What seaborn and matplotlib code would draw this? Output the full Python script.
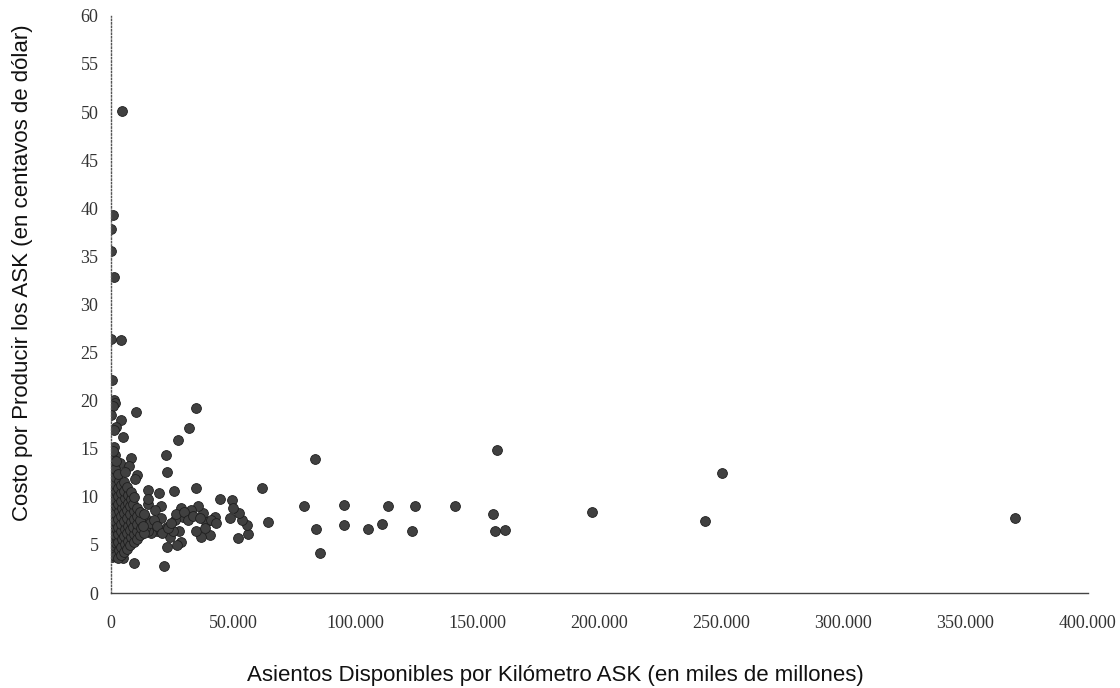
import pandas as pd
import matplotlib
matplotlib.use("Agg")
import matplotlib.pyplot as plt
import matplotlib.ticker as mticker
import seaborn as sns

# ASK (miles de millones) y costo (centavos de dolar)
ask = [
    # puntos aislados / altos
    4500, 900, 0, 0, 1350, 0, 4000, 400, 1200, 1500, 700, 0, 10100, 35000,
    4000, 2300, 1200, 31900, 5000, 27400, 1200, 22400, 1600, 8300, 3700,
    7500, 600, 23000, 10500, 9800, 1600, 5000,
    # zona media
    15400, 19800, 25900, 34800, 61700, 44600, 49600, 64300, 52100, 56000,
    55800, 53900, 52500, 50000, 48700, 42500, 40800, 37100, 35000, 39100,
    37700, 35700, 33000, 28900, 29500, 27900, 28900, 26900, 24100, 22800,
    21700, 9500, 4800, 400, 20700, 20700, 18700, 16600, 15300, 13900,
    15300, 15300, 18000, 25500, 22800, 26200,
    12500, 14000, 16000, 17500, 19000, 21000, 23500, 24500, 26500, 30000,
    31500, 33500, 36500, 38500, 41000, 43000,
    # aerolineas grandes
    83500, 158000, 79000, 95300, 113400, 124400, 141000, 156400, 84200,
    95300, 105300, 111100, 123300, 157500, 161600, 85800,
    196900, 250100, 243300, 370200,
    # nube densa cerca del origen
    300, 500, 400, 700, 300, 600, 500, 800, 400, 300, 600, 500, 700, 400, 800,
    1600, 1900, 1700, 2000, 1500, 1800, 1900, 1600, 2000, 1700, 1500, 1800, 1900,
    3000, 3200, 2900, 3100, 3000, 2800, 3300, 3100, 2900, 3000, 3200, 2900,
    4200, 4100, 4400, 4300, 4100, 4200, 4500, 4000, 4300, 4200,
    5500, 5700, 5400, 5600, 5500, 5300, 5800, 5600, 5400, 5500, 5700,
    6800, 6900, 6700, 7000, 6800, 6600, 7100, 6900, 6800,
    8000, 8200, 7900, 8100, 8000, 7800, 8300, 8100,
    9300, 9400, 9200, 9500, 9300, 9100, 9400,
    10600, 10800, 10500, 10700, 10600,
    12000, 12200, 11900, 12100,
    13500, 13300, 13700,
]
costo = [
    50.1, 39.3, 37.8, 35.6, 32.9, 26.4, 26.3, 22.1, 20.1, 19.8, 19.4, 18.5, 18.8, 19.2,
    18.0, 17.3, 16.9, 17.2, 16.2, 15.9, 15.2, 14.4, 14.3, 14.0, 13.5,
    13.2, 13.0, 12.6, 12.3, 11.9, 11.7, 11.4,
    10.7, 10.4, 10.6, 10.9, 10.9, 9.8, 9.7, 7.4, 5.7, 6.1,
    7.1, 7.6, 8.3, 8.8, 7.8, 7.9, 6.0, 5.8, 6.4, 7.4,
    8.3, 9.0, 8.6, 8.8, 7.9, 6.4, 5.3, 5.0, 5.8, 4.8,
    2.8, 3.1, 3.6, 3.7, 9.0, 7.8, 6.5, 6.2, 6.5, 7.9,
    9.3, 9.8, 8.6, 6.5, 6.9, 7.6,
    7.3, 6.8, 7.3, 7.6, 7.0, 6.2, 6.8, 7.3, 8.2, 8.4,
    7.6, 8.0, 7.8, 6.8, 7.6, 7.3,
    13.9, 14.9, 9.1, 9.2, 9.1, 9.1, 9.1, 8.2, 6.7,
    7.1, 6.7, 7.2, 6.4, 6.5, 6.6, 4.2,
    8.4, 12.5, 7.5, 7.8,
    4.0, 5.0, 5.8, 6.5, 7.3, 8.0, 8.7, 9.4, 10.2, 11.0, 11.8, 12.5, 13.3, 14.0, 14.8,
    3.8, 5.2, 6.0, 6.8, 7.5, 8.3, 9.1, 9.8, 10.6, 11.3, 12.1, 12.9, 13.7,
    3.6, 4.5, 5.3, 6.1, 6.9, 7.7, 8.5, 9.3, 10.1, 10.9, 11.6, 12.4,
    4.0, 4.8, 5.6, 6.4, 7.2, 8.0, 8.8, 9.6, 10.4, 11.2,
    4.3, 5.1, 5.9, 6.7, 7.5, 8.3, 9.1, 9.9, 10.6, 11.5, 12.6,
    4.6, 5.4, 6.2, 7.0, 7.8, 8.6, 9.4, 10.2, 11.0,
    5.0, 5.8, 6.6, 7.4, 8.2, 9.0, 9.8, 10.5,
    5.3, 6.1, 6.9, 7.7, 8.5, 9.3, 10.0,
    5.6, 6.4, 7.2, 8.0, 8.8,
    6.0, 6.8, 7.6, 8.4,
    6.2, 7.0, 8.2,
]

x_ticks = [0, 50000, 100000, 150000, 200000, 250000, 300000, 350000, 400000]
y_ticks = list(range(0, 61, 5))

data = pd.DataFrame({"ask": ask, "costo": costo})

sns.set_theme(style="white")

fig = plt.figure(figsize=(11.2, 6.88), dpi=100)
ax = fig.add_axes([0.099, 0.138, 0.872, 0.839])

sns.scatterplot(data=data, x="ask", y="costo", ax=ax, color="#404040",
                s=50, edgecolor="#1e1e1e", linewidth=0.6, legend=False)

ax.set_xlim(0, 400000)
ax.set_ylim(0, 60)
ax.set_xticks(x_ticks)
ax.set_yticks(y_ticks)
ax.xaxis.set_major_formatter(
    mticker.FuncFormatter(lambda v, p: f"{int(v):,}".replace(",", ".")))

# ejes: izquierda punteada, abajo continua
sns.despine(ax=ax)
ax.spines["left"].set_linestyle((0, (1, 1.5)))
ax.spines["left"].set_color("#555555")
ax.spines["left"].set_linewidth(1.0)
ax.spines["bottom"].set_color("#444444")
ax.spines["bottom"].set_linewidth(1.0)

ax.tick_params(axis="both", direction="out", length=4, width=0.8,
               color="#555555", labelsize=13, labelcolor="#333333")
ax.tick_params(axis="x", pad=12)
ax.tick_params(axis="y", pad=5)
for lab in ax.get_xticklabels() + ax.get_yticklabels():
    lab.set_family(["Liberation Serif", "DejaVu Serif"])

ax.set_xlabel("Asientos Disponibles por Kilómetro ASK (en miles de millones)",
              fontsize=16, family=["Liberation Sans", "DejaVu Sans"], color="#111111")
ax.set_ylabel("Costo por Producir los ASK (en centavos de dólar)",
              fontsize=16, family=["Liberation Sans", "DejaVu Sans"], color="#111111")
ax.yaxis.set_label_coords(-0.08, 0.555)
ax.xaxis.set_label_coords(0.455, -0.124)

fig.savefig("out.png", dpi=100, facecolor="white")
